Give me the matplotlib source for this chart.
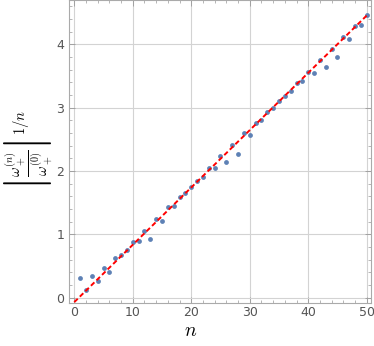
import matplotlib
matplotlib.use("Agg")
import matplotlib.pyplot as plt
from matplotlib.ticker import MultipleLocator

plt.rcParams["mathtext.fontset"] = "cm"

# data
n = list(range(1, 51))
ratio = [0.31, 0.12, 0.35, 0.27, 0.47, 0.41, 0.63, 0.67, 0.76, 0.88,
         0.89, 1.06, 0.93, 1.25, 1.21, 1.43, 1.44, 1.59, 1.65, 1.75,
         1.85, 1.91, 2.05, 2.05, 2.23, 2.14, 2.41, 2.27, 2.60, 2.57,
         2.76, 2.80, 2.93, 3.00, 3.11, 3.19, 3.27, 3.39, 3.42, 3.57,
         3.55, 3.75, 3.64, 3.93, 3.80, 4.11, 4.08, 4.29, 4.31, 4.46]
fit_x = [0, 50]
fit_slope = 0.0905
fit_intercept = -0.07
xticks = [0, 10, 20, 30, 40, 50]
yticks = [0, 1, 2, 3, 4]

fig = plt.figure(figsize=(3.74, 3.46), dpi=100)
ax = fig.add_axes([0.1845, 0.1243, 0.807, 0.8757])

ax.grid(True, color="#d3d3d3", linewidth=0.8, zorder=0)
ax.scatter(n, ratio, s=12, color="#5E81B5", zorder=3, linewidths=0)
ax.plot(fit_x, [fit_intercept + fit_slope * x for x in fit_x],
        color="red", linestyle=(0, (2.5, 1.5)), linewidth=1.4, zorder=4)

ax.set_xlim(-0.9, 50.7)
ax.set_ylim(-0.084, 4.70)
ax.set_xticks(xticks)
ax.set_yticks(yticks)
ax.xaxis.set_minor_locator(MultipleLocator(2))
ax.yaxis.set_minor_locator(MultipleLocator(0.2))
ax.tick_params(which="both", direction="in", color="#999999", labelcolor="#555555",
               labelsize=9, top=True, right=True, labeltop=False, labelright=False)
ax.tick_params(which="major", length=4, width=0.6)
ax.tick_params(which="minor", length=2, width=0.5)
ax.tick_params(axis="x", which="major", pad=2)
for s in ax.spines.values():
    s.set_color("#aaaaaa")
    s.set_linewidth(0.8)

fig.text(0.51, 0.03, r"$n$", fontsize=14, ha="center", va="baseline")
fig.text(0.076, 0.567, r"$\left|\frac{\omega_+^{(n)}}{\omega_+^{(0)}}\right|^{1/n}$",
         fontsize=15, rotation=90, ha="center", va="center")

fig.savefig("out.png", dpi=100)
